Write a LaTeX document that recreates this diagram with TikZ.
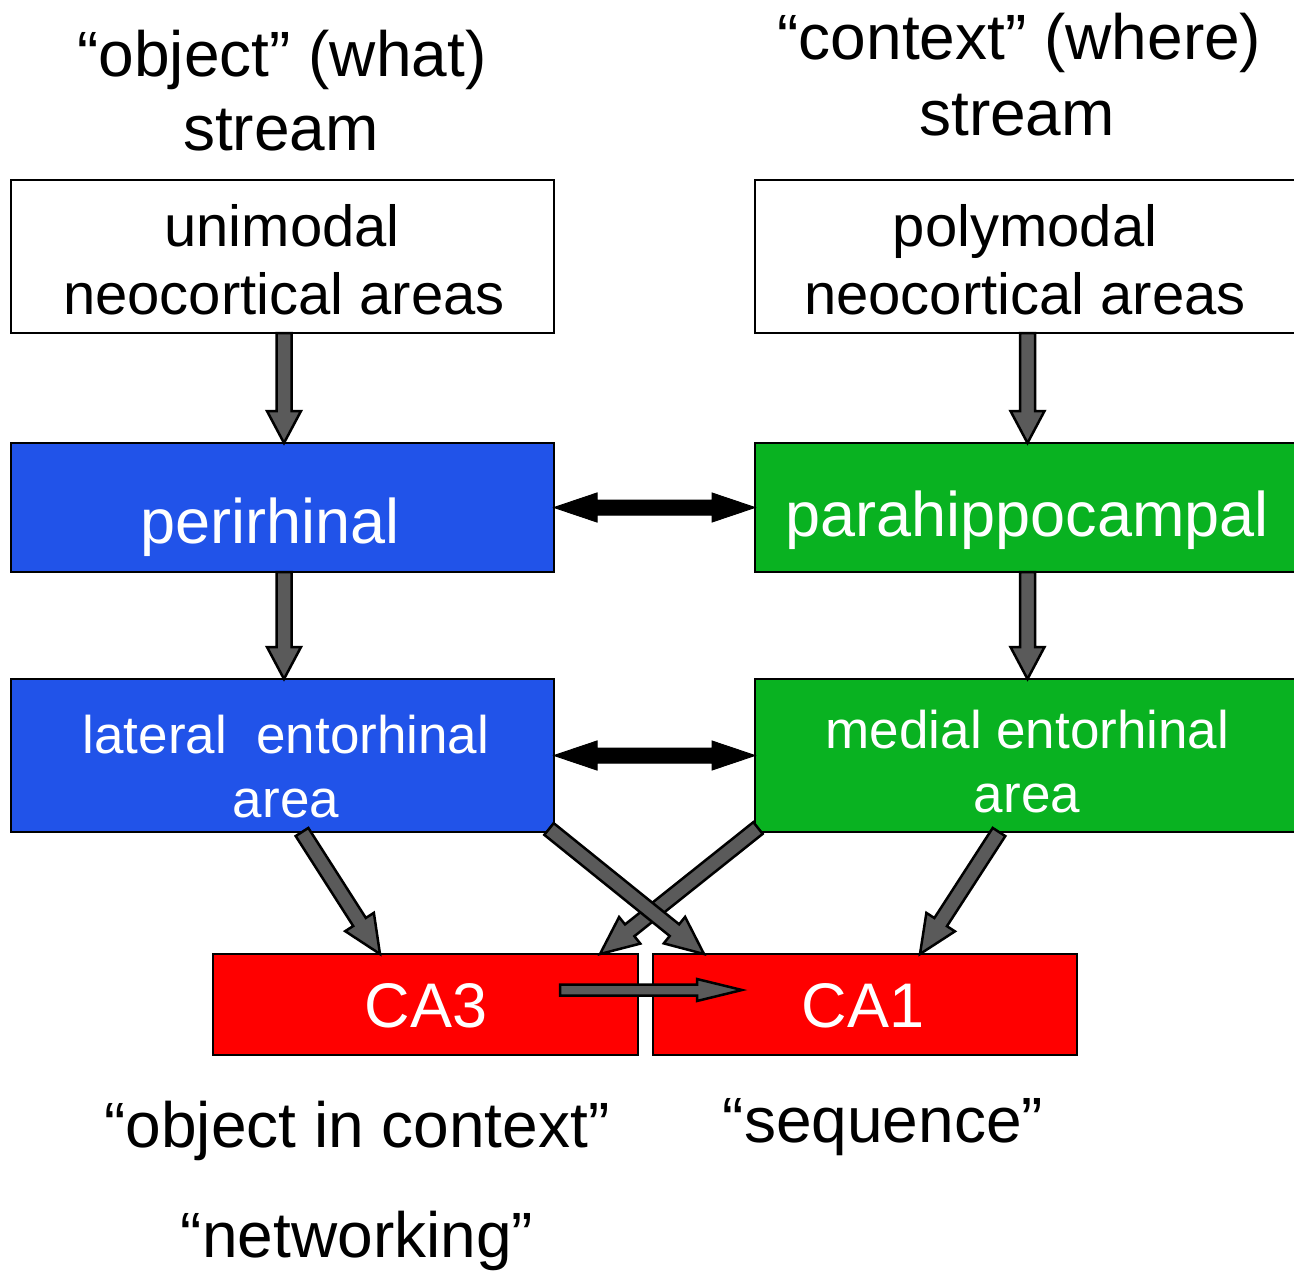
\documentclass[tikz,border=0pt]{standalone}
\usepackage{fontspec}
\setmainfont{Liberation Sans}
\usetikzlibrary{calc}
\definecolor{boxblue}{RGB}{33,83,233}
\definecolor{boxgreen}{RGB}{9,178,33}
\definecolor{boxred}{RGB}{255,0,0}
\definecolor{arrowgray}{RGB}{90,90,90}
\tikzset{
  regionbox/.style={draw=black, line width=2pt, inner sep=0pt, outer sep=0pt},
  lbl/.style={inner sep=0pt, outer sep=0pt, anchor=base, font=\fontsize{#1}{#1}\selectfont},
  garrow/.style={draw=black, fill=arrowgray, line width=2.5pt, line join=miter},
  karrow/.style={draw=black, fill=black, line width=1pt, line join=miter},
}
% block arrow: style, from, to, shaft half width, head half width, head length
\newcommand\blockarrow[6]{%
  \coordinate (ba-s) at #2;
  \coordinate (ba-e) at #3;
  \coordinate (ba-n) at ($(ba-e)!#6!(ba-s)$);
  \draw[#1] ($(ba-s)!#4!90:(ba-e)$) -- ($(ba-n)!#4!90:(ba-e)$) -- ($(ba-n)!#5!90:(ba-e)$)
    -- (ba-e) -- ($(ba-n)!#5!-90:(ba-e)$) -- ($(ba-n)!#4!-90:(ba-e)$)
    -- ($(ba-s)!#4!-90:(ba-e)$) -- cycle;
}
% double-headed block arrow: style, from, to, shaft half width, head half width, head length
\newcommand\dblarrow[6]{%
  \coordinate (da-s) at #2;
  \coordinate (da-e) at #3;
  \coordinate (da-n1) at ($(da-s)!#6!(da-e)$);
  \coordinate (da-n2) at ($(da-e)!#6!(da-s)$);
  \draw[#1] (da-s) -- ($(da-n1)!#5!90:(da-e)$) -- ($(da-n1)!#4!90:(da-e)$)
    -- ($(da-n2)!#4!90:(da-e)$) -- ($(da-n2)!#5!90:(da-e)$) -- (da-e)
    -- ($(da-n2)!#5!-90:(da-e)$) -- ($(da-n2)!#4!-90:(da-e)$)
    -- ($(da-n1)!#4!-90:(da-e)$) -- ($(da-n1)!#5!-90:(da-e)$) -- cycle;
}
\begin{document}
\begin{tikzpicture}[x=1pt,y=-1pt]
\useasboundingbox (0,0) rectangle (1294,1272);
\fill[white] (0,0) rectangle (1294,1272);

% boxes
\node[regionbox, fill=white, minimum width=543pt, minimum height=153pt] (uni) at (282.5,256.5) {};
\node[regionbox, fill=white, minimum width=545pt, minimum height=153pt] (poly) at (1027.5,256.5) {};
\node[regionbox, fill=boxblue, minimum width=543pt, minimum height=129pt] (peri) at (282.5,507.5) {};
\node[regionbox, fill=boxgreen, minimum width=545pt, minimum height=129pt] (para) at (1027.5,507.5) {};
\node[regionbox, fill=boxblue, minimum width=543pt, minimum height=153pt] (lat) at (282.5,755.5) {};
\node[regionbox, fill=boxgreen, minimum width=545pt, minimum height=153pt] (med) at (1027.5,755.5) {};
\node[regionbox, fill=boxred, minimum width=425pt, minimum height=101pt] (CA3) at (425.5,1004.5) {};
\node[regionbox, fill=boxred, minimum width=424pt, minimum height=101pt] (CA1) at (865,1004.5) {};

% horizontal double arrows
\dblarrow{karrow}{(peri.east)}{(para.west)}{7.5pt}{14.5pt}{43pt}
\dblarrow{karrow}{(lat.east)}{(med.west)}{7.5pt}{14.5pt}{43pt}

% vertical arrows
\blockarrow{garrow}{([xshift=1.5pt]uni.south)}{([xshift=1.5pt]peri.north)}{7.5pt}{17pt}{32pt}
\blockarrow{garrow}{(poly.south)}{(para.north)}{7.5pt}{17pt}{32pt}
\blockarrow{garrow}{([xshift=1.5pt]peri.south)}{([xshift=1.5pt]lat.north)}{7.5pt}{17pt}{32pt}
\blockarrow{garrow}{(para.south)}{(med.north)}{7.5pt}{17pt}{32pt}

% diagonal arrows
\blockarrow{garrow}{($(lat.south)+(19.5,0)$)}{($(CA3.north west)+(167,0)$)}{7.5pt}{17pt}{38pt}
\blockarrow{garrow}{($(med.south west)+(3,-4)$)}{($(CA3.north east)+(-38,0)$)}{7.5pt}{17pt}{38pt}
\blockarrow{garrow}{($(lat.south east)+(-5,-3)$)}{($(CA1.north west)+(51,0)$)}{7.5pt}{17pt}{38pt}
\blockarrow{garrow}{($(med.south west)+(244,0)$)}{($(CA1.north west)+(267,0)$)}{7.5pt}{17pt}{38pt}

% CA3 -> CA1
\blockarrow{garrow}{($(CA3.east)+(-78,-14.5)$)}{($(CA1.west)+(89,-14.5)$)}{5.5pt}{11pt}{45pt}

% titles
\node[lbl=64] (t1a) at (282,76) {“object” (what)};
\node[lbl=64] (t1b) at (281,150) {stream};
\node[lbl=64] (t2a) at (1019.5,59) {“context” (where)};
\node[lbl=64] (t2b) at (1017,135) {stream};

% box texts
\node[lbl=58] (unit1) at (282,246) {unimodal};
\node[lbl=58] (unit2) at (284,314) {neocortical areas};
\node[lbl=58] (polyt1) at (1025,246) {polymodal};
\node[lbl=58] (polyt2) at (1025,314) {neocortical areas};
\node[lbl=63, text=white] (perit) at (270,543) {perirhinal};
\node[lbl=63, text=white] (parat) at (1027,536) {parahippocampal};
\node[lbl=53, text=white] (latt1) at (286,753) {lateral\ \ entorhinal};
\node[lbl=53, text=white] (latt2) at (286,817) {area};
\node[lbl=53, text=white] (medt1) at (1027.5,748) {medial entorhinal};
\node[lbl=53, text=white] (medt2) at (1027,812) {area};
\node[lbl=63, text=white] (CA3t) at (426,1027) {CA3};
\node[lbl=63, text=white] (CA1t) at (863,1027) {CA1};

% bottom labels
\node[lbl=64] (b1) at (357,1147) {“object in context”};
\node[lbl=64] (b2) at (883,1142) {“sequence”};
\node[lbl=64] (b3) at (357,1257) {“networking”};
\end{tikzpicture}
\end{document}
